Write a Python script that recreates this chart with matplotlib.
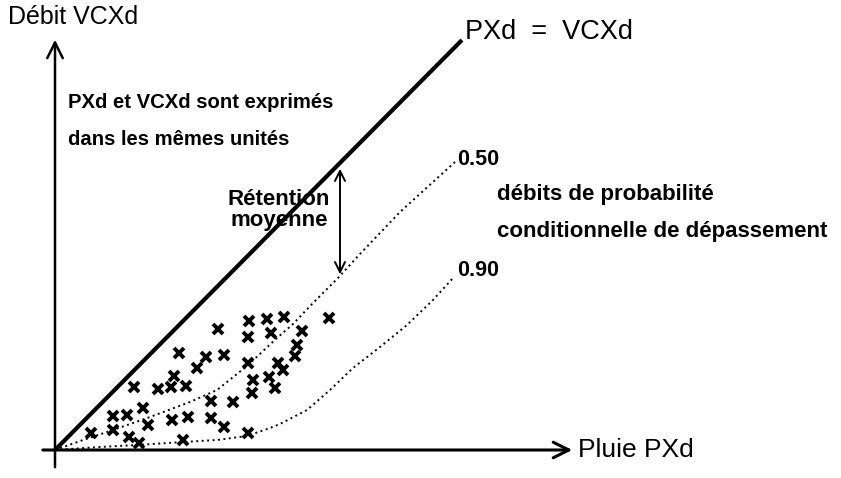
import matplotlib.pyplot as plt

plt.rcParams['font.family'] = ['Liberation Sans', 'DejaVu Sans']

# observations (PXd, VCXd), same units
pluie = [3.6, 5.8, 5.8, 7.2, 8.8, 9.3, 7.4, 8.4, 7.9, 10.3, 11.6, 13.1, 11.9, 14.2,
         12.4, 15.1, 16.9, 16.3, 11.7, 13.3, 15.6, 15.6, 17.8, 16.9, 12.8, 19.3,
         19.3, 19.7, 19.8, 21.4, 22.0, 22.3, 22.8, 24.0, 24.2, 24.7, 21.6, 19.3,
         19.4, 21.2, 22.9, 27.4]
debit = [1.7, 2.0, 3.4, 3.5, 4.2, 2.5, 1.3, 0.7, 6.3, 6.1, 6.3, 6.4, 7.4, 8.2,
         9.7, 9.3, 9.5, 12.1, 3.0, 3.3, 3.2, 4.9, 4.8, 2.3, 1.0, 1.7,
         8.7, 5.7, 7.0, 7.3, 6.2, 8.7, 8.0, 9.4, 10.5, 11.9, 11.7, 11.3,
         12.9, 13.1, 13.3, 13.2]

# conditional exceedance probability curves
q50_x = [0, 2.8, 5.8, 9.5, 13.5, 16.2, 19.2, 22.2, 23.8, 25.8, 28.2, 30.5, 34.5, 40.0]
q50_y = [0, 1.0, 2.0, 3.3, 4.8, 6.0, 8.4, 11.2, 12.6, 14.7, 17.1, 19.6, 23.8, 28.8]
q90_x = [0, 4.5, 8.2, 12.8, 16.2, 19.2, 21.5, 22.5, 25.2, 27.5, 29.8, 32.5, 35.2, 37.8, 39.8]
q90_y = [0, 0.3, 0.5, 0.8, 1.0, 1.4, 2.2, 2.6, 4.0, 6.0, 8.2, 10.3, 12.5, 15.0, 17.2]

diag_max = 40.7
retention_x = 28.5

fig = plt.figure(figsize=(8.41, 4.78), dpi=100)
ax = fig.add_axes([0, 0, 1, 1])
ax.set_xlim(-5.5, 78.6)
ax.set_ylim(-2.8, 45.0)
ax.axis('off')

# axes with open arrow heads
ax.annotate('', xy=(52.0, 0), xytext=(-1.5, 0),
            arrowprops=dict(arrowstyle='->', lw=2.2, mutation_scale=28, color='black'))
ax.annotate('', xy=(0, 41.3), xytext=(0, -2.0),
            arrowprops=dict(arrowstyle='->', lw=1.8, mutation_scale=28, color='black'))

# PXd = VCXd
ax.plot([0, diag_max], [0, diag_max + 0.3], color='black', lw=3.0, solid_capstyle='butt')

ax.plot(q50_x, q50_y, color='black', lw=1.4, linestyle=(0, (1, 1.8)))
ax.plot(q90_x, q90_y, color='black', lw=1.4, linestyle=(0, (1, 1.8)))

ax.plot(pluie, debit, linestyle='none', marker='x', ms=7.5, mew=2.8, color='black')

# mean retention
ax.annotate('', xy=(retention_x, retention_x - 0.1), xytext=(retention_x, 17.3),
            arrowprops=dict(arrowstyle='<->', lw=1.4, mutation_scale=18, color='black'))

ax.text(-4.7, 43.3, 'Débit VCXd', fontsize=18, va='center', ha='left')
ax.text(41.0, 41.8, 'PXd  =  VCXd', fontsize=19.5, va='center', ha='left')
ax.text(1.3, 34.7, 'PXd et VCXd sont exprimés', fontsize=14.6, fontweight='bold',
        va='center', ha='left')
ax.text(1.3, 31.0, 'dans les mêmes unités', fontsize=14.6, fontweight='bold',
        va='center', ha='left')
ax.text(22.4, 24.0, 'Rétention\nmoyenne', fontsize=16, fontweight='bold',
        va='center', ha='center', linespacing=1.0)
ax.text(40.2, 29.0, '0.50', fontsize=15.5, fontweight='bold', va='center', ha='left')
ax.text(40.2, 17.9, '0.90', fontsize=15.5, fontweight='bold', va='center', ha='left')
ax.text(44.2, 25.5, 'débits de probabilité', fontsize=16, fontweight='bold',
        va='center', ha='left')
ax.text(44.2, 21.8, 'conditionnelle de dépassement', fontsize=16, fontweight='bold',
        va='center', ha='left')
ax.text(52.3, 0, 'Pluie PXd', fontsize=19, va='center', ha='left')

fig.savefig('out.png', dpi=100)
